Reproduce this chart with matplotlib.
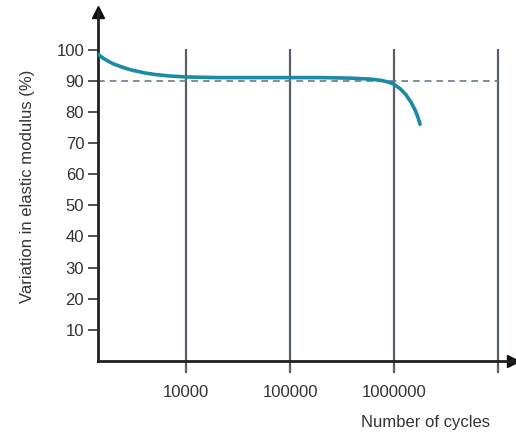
import matplotlib.pyplot as plt

plt.rcParams['font.family'] = ['Liberation Sans', 'DejaVu Sans']

# curve
cycles = [1425, 1600, 1800, 2000, 2500, 3000, 4000, 5000, 7000, 10000, 20000, 50000,
          100000, 200000, 400000, 600000, 750000, 900000, 1000000, 1150000,
          1300000, 1450000, 1600000, 1700000, 1780000]
modulus = [98.5, 97.2, 96.2, 95.4, 94.2, 93.4, 92.5, 92.0, 91.5, 91.2, 91.0, 91.0,
           91.0, 91.0, 90.8, 90.5, 90.1, 89.5, 88.8, 87.4,
           85.5, 83.2, 80.5, 78.2, 76.0]
grid_x = [10000, 100000, 1000000, 10000000]
x_ticks = [10000, 100000, 1000000]
x_labels = ["10000", "100000", "1000000"]
y_ticks = [10, 20, 30, 40, 50, 60, 70, 80, 90, 100]
threshold = 90

fig = plt.figure(figsize=(5.16, 4.34), dpi=100)
ax = fig.add_axes([0.19, 0.168, 0.804, 0.804])
ax.set_xscale('log')
ax.set_xlim(1425, 13900000)
ax.set_ylim(0, 112)

for gx in grid_x:
    ax.plot([gx, gx], [-3.5, 100], color='#5a6068', lw=1.6, clip_on=False, zorder=1)

ax.plot([1425, 10000000], [threshold, threshold], color='#6a7a88', lw=1.2,
        ls=(0, (4, 3)), zorder=2)
ax.plot(cycles, modulus, color='#1b8aa6', lw=2.6, solid_capstyle='round', zorder=3)

for s in ['top', 'right']:
    ax.spines[s].set_visible(False)
for s in ['left', 'bottom']:
    ax.spines[s].set_linewidth(2)
    ax.spines[s].set_color('#222222')

ax.plot(1, 0, '>', color='#111111', ms=9, transform=ax.transAxes, clip_on=False)
ax.plot(0, 1, '^', color='#111111', ms=9, transform=ax.transAxes, clip_on=False)

ax.set_yticks(y_ticks)
ax.set_yticklabels([str(v) for v in y_ticks], fontsize=12, color='#333333')
ax.tick_params(axis='y', length=7, width=1.2, color='#333333', pad=3)
ax.set_xticks(x_ticks)
ax.set_xticklabels(x_labels, fontsize=12, color='#333333')
ax.tick_params(axis='x', length=0, pad=17)
ax.minorticks_off()

ax.set_ylabel("Variation in elastic modulus (%)", fontsize=12, color='#333333')
ax.yaxis.set_label_coords(-0.152, 0.5)
fig.text(0.824, 0.027, "Number of cycles", fontsize=12, color='#333333',
         ha='center', va='center')

fig.savefig("out.png", dpi=100)
